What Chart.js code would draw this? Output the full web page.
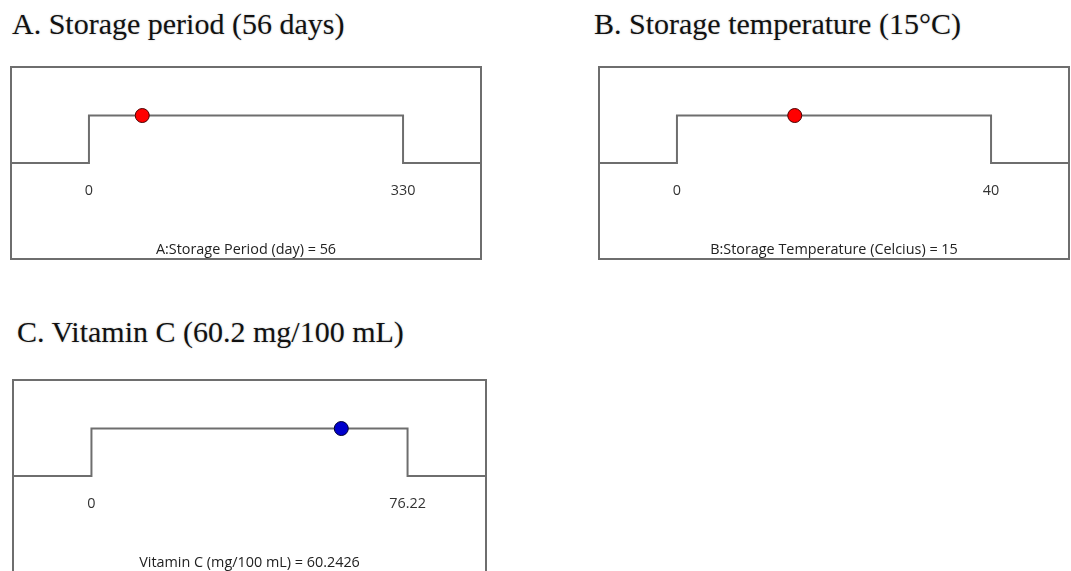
<!DOCTYPE html>
<html>
<head>
<meta charset="utf-8">
<script src="https://cdn.jsdelivr.net/npm/chart.js@4/dist/chart.umd.min.js"></script>
<style>
  body { margin: 0; background: #fff; width: 1071px; height: 571px; overflow: hidden; position: relative; }
  .title { position: absolute; font-family: "Liberation Serif", "Times New Roman", serif; font-size: 30px; line-height: 30px; color: #111; white-space: nowrap; text-shadow: 0 0 2px rgba(0,0,0,0.25); }
  .box { position: absolute; box-sizing: border-box; border: 2px solid #6e6e6e; }
  .box canvas { display: block; }
</style>
</head>
<body>
<div class="title" id="t0" style="left:12px; top:9px;"></div>
<div class="title" id="t1" style="left:594px; top:9px;"></div>
<div class="title" id="t2" style="left:17px; top:317px;"></div>

<div class="box" style="left:10px; top:66px; width:472px; height:194px;"><canvas id="c0" width="468" height="190"></canvas></div>
<div class="box" style="left:598px; top:66px; width:472px; height:194px;"><canvas id="c1" width="468" height="190"></canvas></div>
<div class="box" style="left:12px; top:379px; width:475px; height:194px;"><canvas id="c2" width="471" height="190"></canvas></div>

<script>
// --- datos de cada panel ---
const panelTitles = ['A. Storage period (56 days)', 'B. Storage temperature (15°C)', 'C. Vitamin C (60.2 mg/100 mL)'];
const factorNames = ['A:Storage Period (day)', 'B:Storage Temperature (Celcius)', 'Vitamin C (mg/100 mL)'];
const lowLimits = [0, 0, 0];
const highLimits = [330, 40, 76.22];
const setPoints = [56, 15, 60.2426];

// estilos
const dotFill = ['#ff0000', '#ff0000', '#0000cc'];
const dotEdge = ['#4a0000', '#4a0000', '#000033'];
const lineGrey = '#6e6e6e';
const fontFamily = '"Open Sans", "Noto Sans", sans-serif';

function drawPanel(i) {
    document.getElementById('t' + i).textContent = panelTitles[i];

    const lo = lowLimits[i], hi = highLimits[i];
    const pad = (hi - lo) * 0.245;
    const xMin = lo - pad, xMax = hi + pad;

    // rampa: abajo fuera del rango, arriba dentro
    const ramp = [
        { x: xMin, y: 0 }, { x: lo, y: 0 }, { x: lo, y: 1 },
        { x: hi, y: 1 }, { x: hi, y: 0 }, { x: xMax, y: 0 }
    ];

    new Chart(document.getElementById('c' + i), {
        type: 'scatter',
        data: {
            datasets: [
                {
                    data: [{ x: setPoints[i], y: 1 }],
                    pointRadius: 7,
                    backgroundColor: dotFill[i],
                    borderColor: dotEdge[i],
                    borderWidth: 1
                },
                {
                    data: ramp,
                    showLine: true,
                    pointRadius: 0,
                    borderColor: lineGrey,
                    borderWidth: 2,
                    tension: 0
                }
            ]
        },
        options: {
            responsive: false,
            animation: false,
            layout: { padding: 0, autoPadding: false },
            plugins: { legend: { display: false }, tooltip: { enabled: false } },
            scales: {
                x: {
                    type: 'linear',
                    min: xMin,
                    max: xMax,
                    grid: { display: false, drawTicks: false, tickLength: 0 },
                    border: { display: false },
                    afterBuildTicks: s => { s.ticks = [{ value: lo }, { value: hi }]; },
                    ticks: {
                        autoSkip: false,
                        maxRotation: 0,
                        padding: 5,
                        color: '#333',
                        font: { family: fontFamily, size: 14.4, lineHeight: 1.2 },
                        callback: v => String(v)
                    },
                    title: {
                        display: true,
                        text: factorNames[i] + ' = ' + setPoints[i],
                        color: '#222',
                        font: { family: fontFamily, size: 14.4, lineHeight: 1 },
                        padding: { top: 38, bottom: 1 }
                    }
                },
                y: { display: false, min: -0.3, max: 2 }
            }
        }
    });
}

[0, 1, 2].forEach(drawPanel);
</script>
</body>
</html>
